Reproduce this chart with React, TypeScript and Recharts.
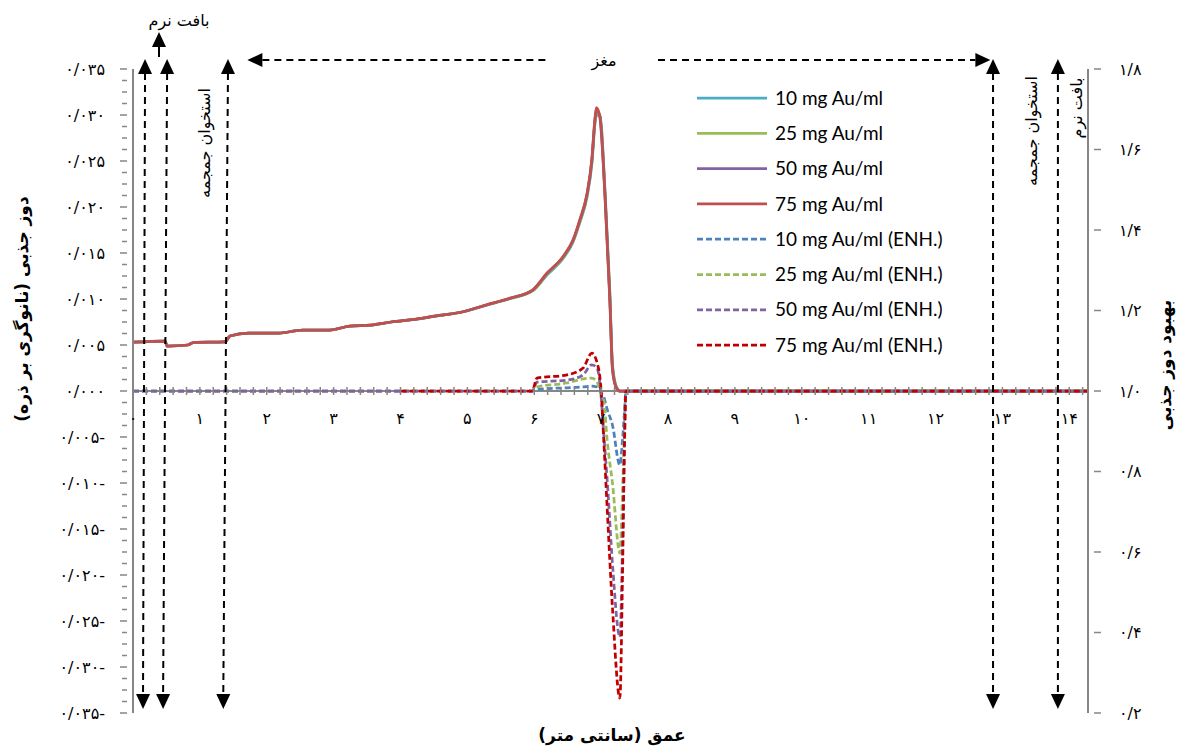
import React from "react";
import { LineChart, Line, XAxis, YAxis, ReferenceLine, Legend } from "recharts";

const W = 1179;
const H = 747;
const PLOT_LEFT = 133;
const PLOT_RIGHT = 1088;
const PLOT_TOP = 69;
const PLOT_BOTTOM = 713;
const ZERO_Y = (PLOT_TOP + PLOT_BOTTOM) / 2;
const LEFT_AXIS_W = 120;
const RIGHT_AXIS_W = 70;
const X_AXIS_H = 10;
const X_MAX = 14.28;

const AXIS = "#868686";
const FONT_FA = "'DejaVu Sans', sans-serif";
const FONT_LEGEND = "Lato, 'Open Sans', sans-serif";

// depth (cm) for the dose curves
const depthSolid = [
  0, 0.48, 0.51, 0.82, 0.9, 1.375, 1.45, 1.73, 2.18, 2.54, 2.94, 3.24, 3.56, 3.86, 4.26, 4.51,
  4.92, 5.28, 5.64, 5.98, 6.19, 6.43, 6.58, 6.68, 6.79, 6.86, 6.91, 6.93, 6.98, 7.06, 7.13,
  7.17, 7.23, 7.28, 14.28,
];
const dose10 = [
  0.0053, 0.00543, 0.00489, 0.005, 0.00527, 0.00533, 0.00598, 0.0063, 0.0063, 0.00663, 0.00663,
  0.00706, 0.00717, 0.0075, 0.00783, 0.00815, 0.00859, 0.00932, 0.01005, 0.0109, 0.0126, 0.0144,
  0.0162, 0.0183, 0.0211, 0.0246, 0.0292, 0.0300, 0.0300, 0.0215, 0.0108, 0.0028, 0.0004, 0, 0,
];
const dose25 = [
  0.0053, 0.00543, 0.00489, 0.005, 0.00527, 0.00533, 0.00598, 0.0063, 0.0063, 0.00663, 0.00663,
  0.00706, 0.00717, 0.0075, 0.00783, 0.00815, 0.00859, 0.00933, 0.01007, 0.0109, 0.0127, 0.0145,
  0.0163, 0.0184, 0.0213, 0.0248, 0.0294, 0.0303, 0.0300, 0.0212, 0.0104, 0.0026, 0.0004, 0, 0,
];
const dose50 = [
  0.0053, 0.00543, 0.00489, 0.005, 0.00527, 0.00533, 0.00598, 0.0063, 0.0063, 0.00663, 0.00663,
  0.00706, 0.00717, 0.0075, 0.00783, 0.00815, 0.00859, 0.00934, 0.01008, 0.011, 0.0128, 0.0146,
  0.0164, 0.0185, 0.0214, 0.025, 0.0296, 0.0306, 0.0299, 0.021, 0.0101, 0.0024, 0.0003, 0, 0,
];
const dose75 = [
  0.0053, 0.00543, 0.00489, 0.005, 0.00527, 0.00533, 0.00598, 0.0063, 0.0063, 0.00663, 0.00663,
  0.00706, 0.00717, 0.0075, 0.00783, 0.00815, 0.00859, 0.00935, 0.0101, 0.011, 0.0128, 0.0146,
  0.0164, 0.0186, 0.0215, 0.0251, 0.0298, 0.0308, 0.0298, 0.0208, 0.0099, 0.0023, 0.0003, 0, 0,
];

// depth (cm) for the enhancement curves
const depthEnh = [
  0, 4, 5.97, 6.04, 6.49, 6.73, 6.86, 6.94, 7.0, 7.04, 7.09, 7.17, 7.28, 7.32, 7.35, 7.37, 14.28,
];
const enh10 = [1, 1, 1, 1.004, 1.008, 1.01, 1.012, 1.01, 0.995, 0.985, 0.955, 0.915, 0.816, 0.88, 0.95, 1, 1];
const enh25 = [1, 1, 1, 1.01, 1.02, 1.03, 1.032, 1.022, 0.99, 0.975, 0.878, 0.77, 0.597, 0.75, 0.92, 1, 1];
const enh50 = [1, 1, 1, 1.022, 1.027, 1.04, 1.065, 1.057, 0.985, 0.89, 0.78, 0.57, 0.389, 0.62, 0.88, 1, 1];
const enh75 = [null, 1, 1, 1.032, 1.04, 1.057, 1.094, 1.07, 1, 0.876, 0.71, 0.46, 0.237, 0.547, 0.876, 1, 1];

const depthLabels = [0, 1, 2, 3, 4, 5, 6, 7, 8, 9, 10, 11, 12, 13, 14];
const doseLabels = [-0.035, -0.03, -0.025, -0.02, -0.015, -0.01, -0.005, 0, 0.005, 0.01, 0.015, 0.02, 0.025, 0.03, 0.035];
const gainLabels = [0.2, 0.4, 0.6, 0.8, 1.0, 1.2, 1.4, 1.6, 1.8];
const seriesNames = [
  "10 mg Au/ml", "25 mg Au/ml", "50 mg Au/ml", "75 mg Au/ml",
  "10 mg Au/ml (ENH.)", "25 mg Au/ml (ENH.)", "50 mg Au/ml (ENH.)", "75 mg Au/ml (ENH.)",
];

const pts = (xs: number[], ys: (number | null)[]) => xs.map((x, i) => ({ x, y: ys[i] }));

const SERIES = [
  { name: seriesNames[0], color: "#4BACC6", dash: undefined, axis: "left", data: pts(depthSolid, dose10) },
  { name: seriesNames[1], color: "#9BBB59", dash: undefined, axis: "left", data: pts(depthSolid, dose25) },
  { name: seriesNames[2], color: "#8064A2", dash: undefined, axis: "left", data: pts(depthSolid, dose50) },
  { name: seriesNames[3], color: "#C0504D", dash: undefined, axis: "left", data: pts(depthSolid, dose75) },
  { name: seriesNames[4], color: "#4F81BD", dash: "6 3", axis: "right", data: pts(depthEnh, enh10) },
  { name: seriesNames[5], color: "#9BBB59", dash: "6 3", axis: "right", data: pts(depthEnh, enh25) },
  { name: seriesNames[6], color: "#8064A2", dash: "6 3", axis: "right", data: pts(depthEnh, enh50) },
  { name: seriesNames[7], color: "#C00000", dash: "6 3", axis: "right", data: pts(depthEnh, enh75) },
];

// tick positions (labels only on the values above)
const xTicks = Array.from({ length: 72 }, (_, i) => Math.round(i * 2) / 10);
const doseTicks = Array.from({ length: 57 }, (_, i) => -0.035 + i * 0.00125);

const FA = "۰۱۲۳۴۵۶۷۸۹";
const fa = (s: string) => s.replace(/\d/g, (d) => FA[+d]).replace(".", "/");
const near = (a: number, b: number) => Math.abs(a - b) < 1e-7;

const xPx = (cm: number) => PLOT_LEFT + (cm / X_MAX) * (PLOT_RIGHT - PLOT_LEFT);

function XTick(props: any) {
  const { x, payload } = props;
  const v = payload.value;
  const lab = depthLabels.find((d) => near(d, v));
  return (
    <g>
      <line x1={x} x2={x} y1={ZERO_Y - 4} y2={ZERO_Y + 4} stroke={AXIS} strokeWidth={1.5} />
      {lab !== undefined && (
        <text x={x} y={ZERO_Y + 33} textAnchor="middle" fontFamily={FONT_FA} fontSize={16} fill="#000">
          {fa(String(lab))}
        </text>
      )}
    </g>
  );
}

function LeftTick(props: any) {
  const { x, y, payload } = props;
  const v = payload.value;
  const lab = doseLabels.find((d) => near(d, v));
  return (
    <g>
      <line x1={x - (lab !== undefined ? 7 : 5)} x2={x} y1={y} y2={y} stroke={AXIS} strokeWidth={1.5} />
      {lab !== undefined && (
        <text x={x - 22} y={y} dy="0.35em" textAnchor="end" fontFamily={FONT_FA} fontSize={16} fill="#000">
          {fa(Math.abs(lab).toFixed(3)) + (lab < 0 ? "-" : "")}
        </text>
      )}
    </g>
  );
}

function RightTick(props: any) {
  const { x, y, payload } = props;
  return (
    <g>
      <line x1={x} x2={x + 7} y1={y} y2={y} stroke={AXIS} strokeWidth={1.5} />
      <text x={x + 25} y={y} dy="0.35em" textAnchor="start" fontFamily={FONT_FA} fontSize={16} fill="#000">
        {fa(Number(payload.value).toFixed(1))}
      </text>
    </g>
  );
}

function LegendBox() {
  return (
    <svg width={280} height={290}>
      {SERIES.map((s, i) => {
        const cy = 18 + i * 35.3;
        return (
          <g key={s.name}>
            <line x1={7} x2={77} y1={cy} y2={cy} stroke={s.color} strokeWidth={2.75} strokeDasharray={s.dash} />
            <text x={85} y={cy} dy="0.35em" fontFamily={FONT_LEGEND} fontSize={19} fill="#000">
              {s.name}
            </text>
          </g>
        );
      })}
    </svg>
  );
}

function Head({ x, y, dir }: { x: number; y: number; dir: "up" | "down" | "left" | "right" }) {
  const L = 15;
  const h = 7;
  let p = "";
  if (dir === "up") p = `${x},${y} ${x - h},${y + L} ${x + h},${y + L}`;
  if (dir === "down") p = `${x},${y} ${x - h},${y - L} ${x + h},${y - L}`;
  if (dir === "left") p = `${x},${y} ${x + L},${y - h} ${x + L},${y + h}`;
  if (dir === "right") p = `${x},${y} ${x - L},${y - h} ${x - L},${y + h}`;
  return <polygon points={p} fill="#000" />;
}

// region boundary arrows (cm, top / bottom)
const boundaryArrows = [
  [0.18, 0.15],
  [0.51, 0.45],
  [1.42, 1.35],
  [12.86, 12.86],
  [13.83, 13.83],
];

function Overlay() {
  const top = 59;
  const bot = 709;
  const dashed = { stroke: "#000", strokeWidth: 2, strokeDasharray: "7 5" };
  const rot = (cx: number, cy: number, txt: string, size: number, bold = false) => (
    <text
      x={cx}
      y={cy}
      dy="0.35em"
      textAnchor="middle"
      direction="rtl"
      transform={`rotate(-90 ${cx} ${cy})`}
      fontFamily={FONT_FA}
      fontSize={size}
      fontWeight={bold ? "bold" : "normal"}
      fill="#000"
    >
      {txt}
    </text>
  );
  return (
    <svg width={W} height={H} style={{ position: "absolute", left: 0, top: 0, pointerEvents: "none" }}>
      {boundaryArrows.map(([a, b], i) => (
        <g key={i}>
          <line x1={xPx(a)} y1={top + 14} x2={xPx(b)} y2={bot - 14} {...dashed} />
          <Head x={xPx(a)} y={top} dir="up" />
          <Head x={xPx(b)} y={bot} dir="down" />
        </g>
      ))}
      {/* soft tissue, top left */}
      <text x={179} y={26} textAnchor="middle" direction="rtl" fontFamily={FONT_FA} fontSize={16} fill="#000">
        بافت نرم
      </text>
      <line x1={159} y1={57} x2={159} y2={45} stroke="#000" strokeWidth={2} />
      <Head x={159} y={32} dir="up" />
      {/* brain */}
      <Head x={xPx(1.71)} y={60} dir="left" />
      <line x1={xPx(1.71) + 15} y1={60} x2={546} y2={60} {...dashed} />
      <text x={604} y={60} dy="0.35em" textAnchor="middle" direction="rtl" fontFamily={FONT_FA} fontSize={16} fill="#000">
        مغز
      </text>
      <line x1={658} y1={60} x2={xPx(12.82) - 15} y2={60} {...dashed} />
      <Head x={xPx(12.82)} y={60} dir="right" />
      {rot(204, 143, "استخوان جمجمه", 16)}
      {rot(1031, 131, "استخوان جمجمه", 16)}
      {rot(1076, 108, "بافت نرم", 16)}
      {rot(22, 309, "دوز جذبی (نانوگری بر ذره)", 17, true)}
      {rot(1165, 365, "بهبود دوز جذبی", 17, true)}
      <text x={612} y={735} dy="0.35em" textAnchor="middle" direction="rtl" fontFamily={FONT_FA} fontSize={17} fontWeight="bold" fill="#000">
        عمق (سانتی متر)
      </text>
    </svg>
  );
}

export default function App() {
  return (
    <div style={{ position: "absolute", left: 0, top: 0, width: W, height: H, background: "#fff" }}>
      <LineChart
        width={W}
        height={H}
        margin={{
          top: PLOT_TOP,
          bottom: H - PLOT_BOTTOM - X_AXIS_H,
          left: PLOT_LEFT - LEFT_AXIS_W,
          right: W - PLOT_RIGHT - RIGHT_AXIS_W,
        }}
      >
        <XAxis
          type="number"
          dataKey="x"
          domain={[0, X_MAX]}
          ticks={xTicks}
          interval={0}
          height={X_AXIS_H}
          axisLine={false}
          tickLine={false}
          tickMargin={0}
          tick={(p: any) => <XTick {...p} />}
          allowDataOverflow
        />
        <YAxis
          yAxisId="left"
          type="number"
          domain={[-0.035, 0.035]}
          ticks={doseTicks}
          interval={0}
          width={LEFT_AXIS_W}
          axisLine={{ stroke: AXIS, strokeWidth: 2 }}
          tickLine={false}
          tickMargin={0}
          tick={(p: any) => <LeftTick {...p} />}
          allowDataOverflow
        />
        <YAxis
          yAxisId="right"
          orientation="right"
          type="number"
          domain={[0.2, 1.8]}
          ticks={gainLabels}
          interval={0}
          width={RIGHT_AXIS_W}
          axisLine={{ stroke: AXIS, strokeWidth: 2 }}
          tickLine={false}
          tickMargin={0}
          tick={(p: any) => <RightTick {...p} />}
          allowDataOverflow
        />
        <ReferenceLine yAxisId="left" y={0} stroke={AXIS} strokeWidth={2} />
        {SERIES.map((s) => (
          <Line
            key={s.name}
            name={s.name}
            yAxisId={s.axis}
            data={s.data}
            dataKey="y"
            type="monotone"
            stroke={s.color}
            strokeWidth={2.75}
            strokeDasharray={s.dash}
            dot={false}
            activeDot={false}
            isAnimationActive={false}
          />
        ))}
        <Legend
          layout="vertical"
          align="center"
          verticalAlign="middle"
          wrapperStyle={{ left: 690, top: 80, width: 280, height: 290 }}
          content={() => <LegendBox />}
        />
      </LineChart>
      <Overlay />
    </div>
  );
}
